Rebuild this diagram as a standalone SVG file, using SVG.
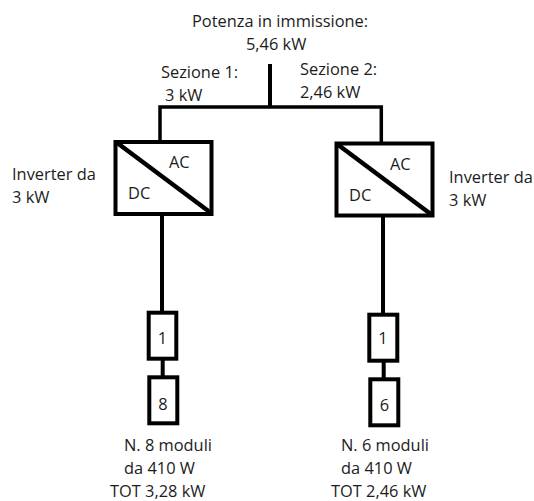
<svg xmlns="http://www.w3.org/2000/svg" width="534" height="501" viewBox="0 0 534 501">
<style>
text{font-family:"Open Sans","Noto Sans","Liberation Sans",sans-serif;font-size:16.4px;fill:#1c1c1c}
.b{fill:#fff;stroke:#000;stroke-width:4}
.w{fill:none;stroke:#000;stroke-width:4}
.d{fill:none;stroke:#000;stroke-width:4.5}
.t{fill:none;stroke:#000;stroke-width:3.5}
</style>
<rect width="534" height="501" fill="#fff"/>
<g id="connectors">
<path class="w" d="M270 64V107"/>
<path class="t" d="M160 140V107H381.3V142"/>
<path class="w" d="M162 215V311M162.7 360V376"/>
<path class="w" d="M383 217V313M383.7 362V378"/>
</g>
<g id="inverter1">
<rect class="b" x="115.5" y="142" width="96" height="72"/>
<path class="d" d="M116 142L211 213"/>
<text x="169" y="168">AC</text><text x="128" y="199">DC</text>
</g>
<g id="inverter2">
<rect class="b" x="336.5" y="143.5" width="96" height="72"/>
<path class="d" d="M337 144L432 215"/>
<text x="390" y="170">AC</text><text x="349" y="201">DC</text>
</g>
<g id="string1"><rect class="b" x="148.7" y="312.7" width="27.6" height="46"/><text x="162.5" y="344" text-anchor="middle">1</text></g>
<g id="modules1"><rect class="b" x="149.3" y="377.3" width="28" height="46"/><text x="163" y="410" text-anchor="middle">8</text></g>
<g id="string2"><rect class="b" x="369.3" y="314.7" width="28" height="46"/><text x="383" y="344" text-anchor="middle">1</text></g>
<g id="modules2"><rect class="b" x="370.3" y="379.3" width="28" height="46"/><text x="384.5" y="411" text-anchor="middle">6</text></g>
<g id="labels">
<text x="192" y="27">Potenza in immissione:</text>
<text x="246" y="50">5,46 kW</text>
<text x="161" y="78">Sezione 1:</text>
<text x="165" y="101">3 kW</text>
<text x="300" y="75">Sezione 2:</text>
<text x="300" y="98">2,46 kW</text>
<text x="12" y="180">Inverter da</text>
<text x="12" y="203">3 kW</text>
<text x="449" y="183">Inverter da</text>
<text x="449" y="206">3 kW</text>
<text x="124" y="451">N. 8 moduli</text>
<text x="124" y="474">da 410 W</text>
<text x="110" y="496.5">TOT 3,28 kW</text>
<text x="341" y="451">N. 6 moduli</text>
<text x="341" y="474">da 410 W</text>
<text x="331" y="497">TOT 2,46 kW</text>
</g>
</svg>
